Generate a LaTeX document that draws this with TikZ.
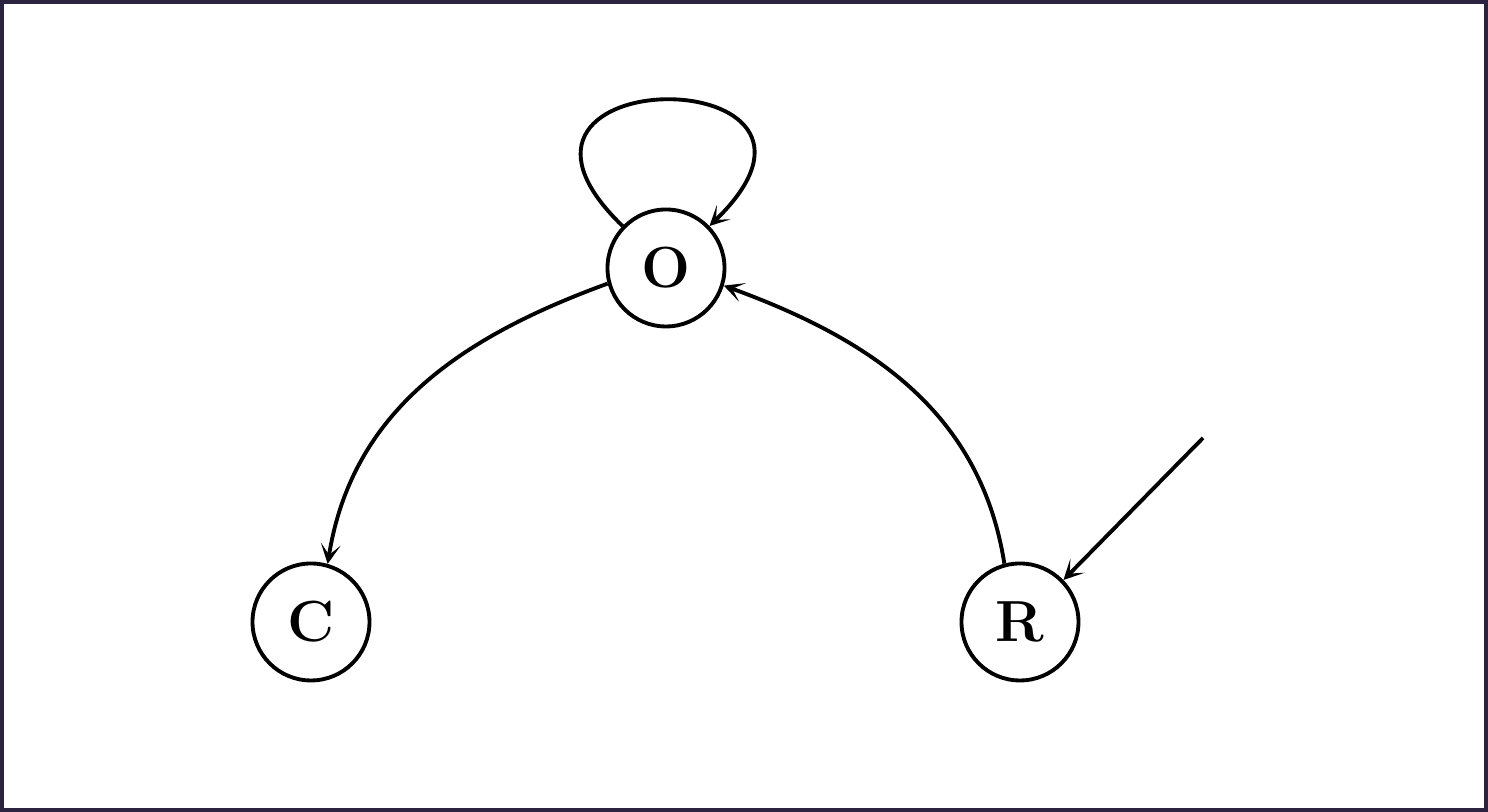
\documentclass[tikz,border=0pt]{standalone}
\usetikzlibrary{arrows.meta}
\definecolor{framecol}{HTML}{2B2340}

\begin{document}
\begin{tikzpicture}[line width=1.1pt,>={Stealth[length=2mm,width=2mm,inset=1.1mm]}]

        % frame and page
        \fill[framecol] (0,0) rectangle (14.88,8.12);
        \fill[white] (0.04,0.04) rectangle (14.84,8.08);
        \useasboundingbox (0,0) rectangle (14.88,8.12);

        \begin{scope}[every node/.style={circle,draw,minimum size=1.17cm,inner sep=0pt,
            font=\fontsize{16.5}{20}\selectfont\bfseries}]
          \node (O)  at (6.66,5.44)  {O};
          \node (C)  at (3.11,1.90)  {C};
          \node (R)  at (10.20,1.90) {R};
        \end{scope}

        \coordinate (start) at (12.03,3.74);

        \begin{scope}[every edge/.style={draw,->}]
          \path (O)     edge[out=136,in=44,distance=2.42cm] (O);
          \path (O.195) edge[out=200,in=81] (C.74);
          \path (R.105) edge[out=99,in=-20] (O.343);
          \path (start) edge (R.44);
        \end{scope}

      \end{tikzpicture}
\end{document}
